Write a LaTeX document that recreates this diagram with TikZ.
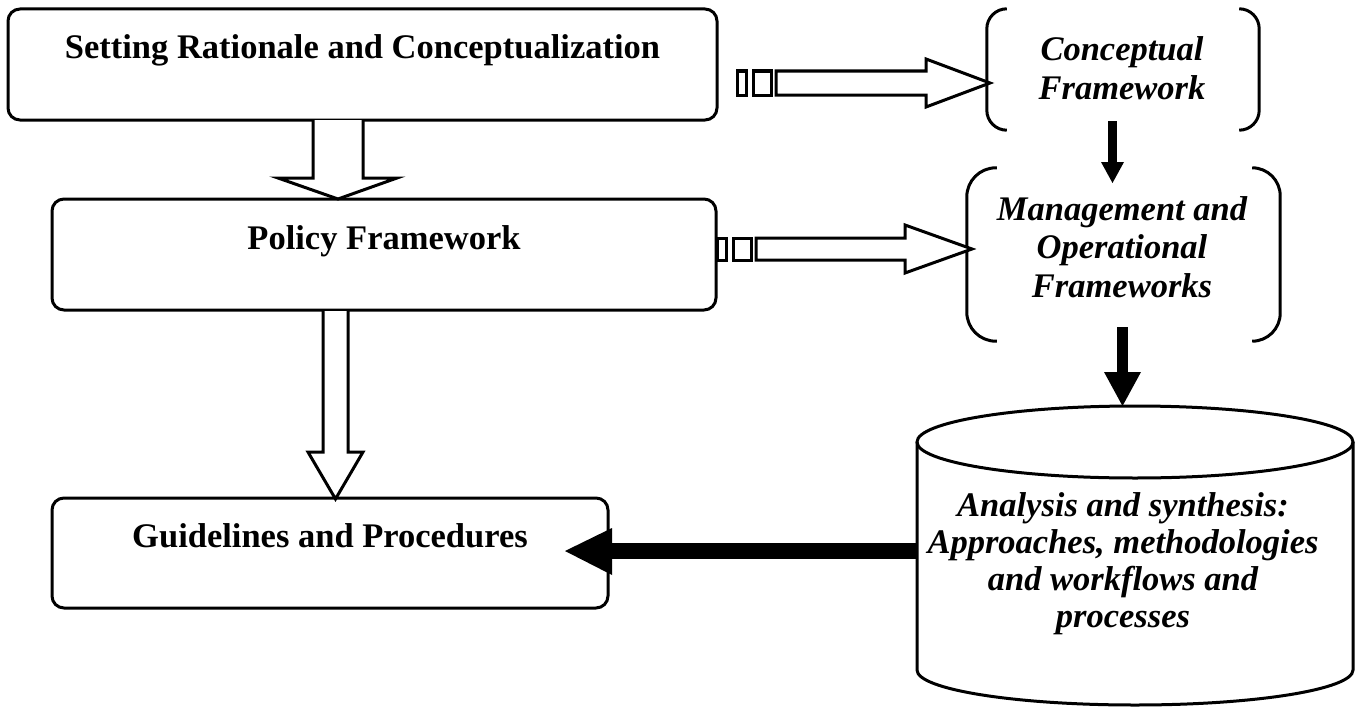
\documentclass[tikz,border=0pt]{standalone}
\usepackage{fontspec}
\setmainfont{Liberation Serif}
\begin{document}
\begin{tikzpicture}[x=1pt,y=-1pt,
  box/.style={draw, line width=3pt, rounded corners=12pt, inner sep=0pt},
  frame/.style={inner sep=0pt},
  brk/.style={draw, line width=3pt},
  btxt/.style={font=\fontsize{34.5}{38}\selectfont\bfseries, inner sep=0pt},
  itxt/.style={font=\fontsize{34.5}{38.5}\selectfont\bfseries\itshape, align=center, inner sep=0pt},
  hollow/.style={draw, line width=3pt, fill=white, line join=miter},
  blackhead/.style={fill=black, draw=none}]
\useasboundingbox[fill=white] (0,0) rectangle (1362,709);

% left boxes
\node[box, minimum width=709pt, minimum height=111pt] (b1) at (362.5,64.5) {};
\node[btxt, anchor=base] (t1) at (362.5,59) {Setting Rationale and Conceptualization};
\node[box, minimum width=664pt, minimum height=111pt] (b2) at (384,254.5) {};
\node[btxt, anchor=base] (t2) at (384,249) {Policy Framework};
\node[box, minimum width=556pt, minimum height=110pt] (b3) at (330,553) {};
\node[btxt, anchor=base] (t3) at (330,547) {Guidelines and Procedures};

% right bracket frames
\node[frame, minimum width=272pt, minimum height=121pt] (cf) at (1123,69.5) {};
\node[itxt] (cft) at (1122,68) {Conceptual\\Framework};
\draw[brk, rounded corners=20pt] ([xshift=20pt]cf.north west) -- (cf.north west) -- (cf.south west) -- ([xshift=20pt]cf.south west);
\draw[brk, rounded corners=20pt] ([xshift=-20pt]cf.north east) -- (cf.north east) -- (cf.south east) -- ([xshift=-20pt]cf.south east);

\node[frame, minimum width=313pt, minimum height=173pt] (mo) at (1123.5,254.5) {};
\node[itxt] (mot) at (1122,247) {Management and\\Operational\\Frameworks};
\draw[brk, rounded corners=29pt] ([xshift=30pt]mo.north west) -- (mo.north west) -- (mo.south west) -- ([xshift=30pt]mo.south west);
\draw[brk, rounded corners=28pt] ([xshift=-28pt]mo.north east) -- (mo.north east) -- (mo.south east) -- ([xshift=-28pt]mo.south east);

% cylinder
\node[frame, minimum width=436pt, minimum height=298pt] (cyl) at (1135,556) {};
\draw[line width=3pt] (917,442) -- (917,670) arc[start angle=180, end angle=0, x radius=218, y radius=35] -- (1353,442);
\draw[line width=3pt] (1135,442) ellipse[x radius=218, y radius=36];
\node[font=\fontsize{34.5}{37}\selectfont\bfseries\itshape, align=center, inner sep=0pt] (cylt) at (1123,564)
  {Analysis and synthesis:\\Approaches, methodologies\\and workflows and\\processes};

% hollow arrow b1 -> b2
\draw[hollow] (313,120) -- (313,178) -- (278,178) -- (338,199) -- (397,178) -- (363,178) -- (363,120);
% hollow arrow b2 -> b3
\draw[hollow] (323,311) -- (323,452) -- (308,452) -- (335.5,499) -- (363,452) -- (348,452) -- (348,311);
% hollow arrow b1 -> cf
\draw[hollow] (737,71) rectangle (746,95);
\draw[hollow] (753,71) rectangle (771,95);
\draw[hollow] (776,71) -- (926,71) -- (926,59) -- (990,83) -- (926,107) -- (926,95) -- (776,95) -- cycle;
% hollow arrow b2 -> mo
\draw[hollow] (717,238) rectangle (726,260);
\draw[hollow] (733,238) rectangle (751,260);
\draw[hollow] (756,238) -- (905,238) -- (905,225) -- (972,249) -- (905,273) -- (905,260) -- (756,260) -- cycle;

% black arrow cf -> mo
\coordinate (a1s) at (1112.5,121);
\coordinate (a1e) at (1112.5,163);
\draw[line width=9pt] (a1s) -- (a1e);
\fill[blackhead] (1101,162) -- (1124,162) -- (1112.5,183) -- cycle;
% black arrow mo -> cyl
\coordinate (a2s) at (1122.5,327);
\coordinate (a2e) at (1122.5,373);
\draw[line width=11pt] (a2s) -- (a2e);
\fill[blackhead] (1104,372) -- (1141,372) -- (1122.5,406) -- cycle;
% thick arrow cyl -> b3
\coordinate (a3s) at (918,551);
\coordinate (a3e) at (611,551);
\draw[line width=16pt] (a3s) -- (a3e);
\fill[blackhead] (612,528) -- (612,575) -- (565,551) -- cycle;
\end{tikzpicture}
\end{document}
